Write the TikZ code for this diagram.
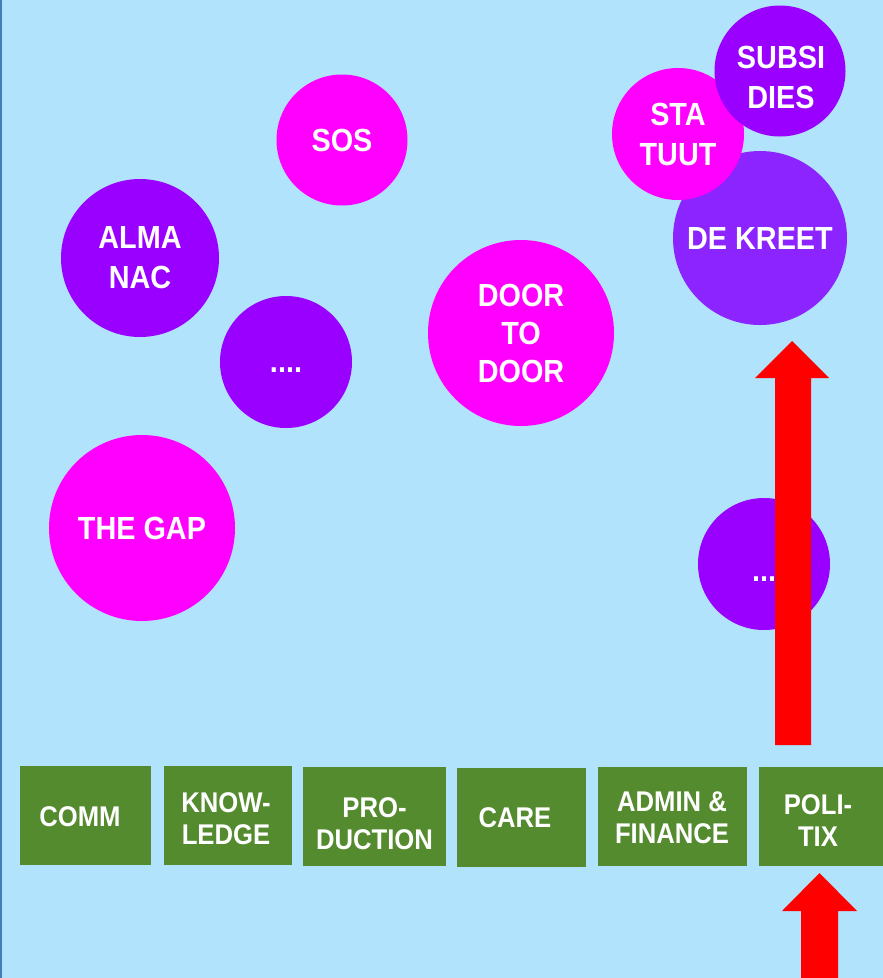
\documentclass[tikz,border=0pt]{standalone}
\usepackage{fontspec}
\setmainfont{Liberation Sans}[FakeStretch=0.9]
\definecolor{bgblue}{HTML}{B1E3FC}
\definecolor{edgeblue}{HTML}{3F7FB5}
\definecolor{boxgreen}{HTML}{558B2F}
\definecolor{mag}{HTML}{FF00FF}
\definecolor{purp}{HTML}{9900FF}
\definecolor{kreet}{HTML}{8B24FF}
\definecolor{arrowred}{HTML}{FF0000}
\tikzset{
  bubble/.style={circle, inner sep=0pt, text=white, align=center,
    font=\bfseries\fontsize{32}{40}\selectfont},
  bubbletext/.style={inner sep=0pt, text=white, align=center,
    font=\bfseries\fontsize{32}{40}\selectfont},
  pinkbubble/.style={bubble, fill=mag},
  purplebubble/.style={bubble, fill=purp},
  teambox/.style={rectangle, fill=boxgreen, inner sep=0pt, minimum height=99pt},
  teamtext/.style={inner sep=0pt, text=white, align=center,
    font=\bfseries\fontsize{28.5}{32}\selectfont},
  bigarrow/.style={fill=arrowred, draw=none}
}
\begin{document}
\begin{tikzpicture}[x=1pt,y=-1pt]
\useasboundingbox (0,0) rectangle (883,978);
\fill[bgblue] (0,0) rectangle (883,978);
\draw[edgeblue, line width=1.5pt] (0.75,0) -- (0.75,978);

% bubbles
\node[pinkbubble, minimum size=131pt] (sos) at (342,140) {SOS};
\node[purplebubble, minimum size=158pt] (almanac) at (140,258) {ALMA\\NAC};
\node[purplebubble, minimum size=132pt] (dots1) at (286,362) {\raisebox{-10pt}[0pt][0pt]{....}};
\node[pinkbubble, minimum size=186pt] (door) at (521,333) {DOOR\\[-2pt]TO\\[-2pt]DOOR};
\node[pinkbubble, minimum size=186pt] (gap) at (142,528) {THE GAP};
\node[bubble, fill=kreet, minimum size=174pt] (kreet) at (760,238) {DE KREET};
\node[pinkbubble, minimum size=132pt] (statuut) at (678,134) {STA\\TUUT};
\node[purplebubble, minimum size=131pt] (subsidies) at (780,71) {};
\node[bubbletext] (subsidiestext) at (781,77) {SUBSI\\DIES};
\node[purplebubble, minimum size=132pt] (dots2) at (764,564) {\raisebox{-17pt}[0pt][0pt]{...}};

% team boxes
\node[teambox, minimum width=131pt] (comm) at (85.5,815.5) {};
\node[teamtext] (commtext) at (80,817) {COMM};
\node[teambox, minimum width=128pt] (know) at (228,815.5) {};
\node[teamtext] (knowtext) at (226,819) {KNOW-\\LEDGE};
\node[teambox, minimum width=143pt] (prod) at (374.5,816.5) {};
\node[teamtext] (prodtext) at (374.5,824) {PRO-\\DUCTION};
\node[teambox, minimum width=129pt] (care) at (521.5,817.5) {};
\node[teamtext] (caretext) at (515,818) {CARE};
\node[teambox, minimum width=149pt] (admin) at (672.5,816.5) {};
\node[teamtext] (admintext) at (672,818) {ADMIN \&\\FINANCE};
\node[teambox, minimum width=128pt] (poli) at (823,816.5) {};
\node[teamtext] (politext) at (818,821) {POLI-\\TIX};

% upper red arrow
\coordinate (ua) at (792,341);
\fill[bigarrow] (ua) -- (829,378) -- (811,378) -- (811,745) -- (775,745) -- (775,378) -- (755,378) -- cycle;
% lower red arrow
\coordinate (la) at (819.5,873);
\fill[bigarrow] (la) -- (857,911) -- (838,911) -- (838,980) -- (801,980) -- (801,911) -- (782,911) -- cycle;
\end{tikzpicture}
\end{document}
